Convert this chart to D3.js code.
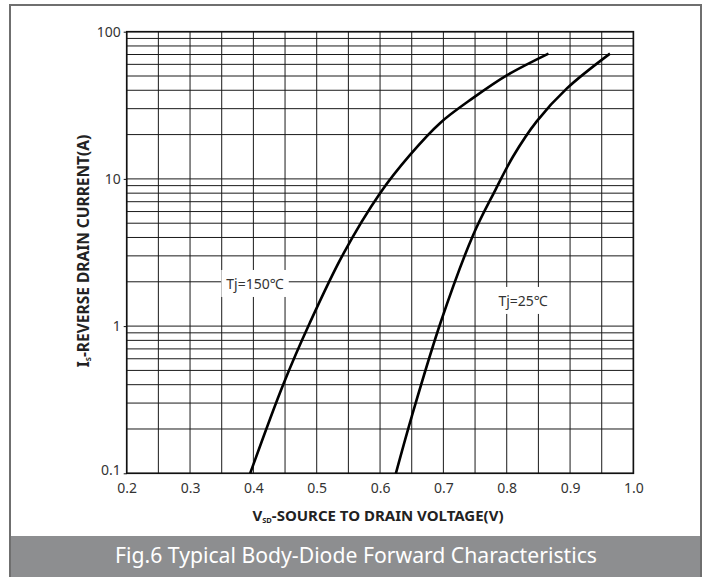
<!DOCTYPE html>
<html>
<head>
<meta charset="utf-8">
<script src="https://cdn.jsdelivr.net/npm/d3@7"></script>
<style>
  body { margin: 0; background: #fff; }
  svg text { font-family: "Noto Sans", sans-serif; }
</style>
</head>
<body>
<div id="chart"></div>
<script>
// curve data (Vsd in volts, Is in amps)
const vf150 = [0.395, 0.447, 0.489, 0.542, 0.600, 0.647, 0.695, 0.747, 0.800, 0.866];
const is150 = [0.1, 0.4, 1.05, 3.1, 8.0, 14.5, 24.0, 35.5, 50.5, 71];
const vf25 = [0.625, 0.650, 0.696, 0.747, 0.782, 0.810, 0.847, 0.895, 0.963];
const is25 = [0.1, 0.243, 1.07, 4.16, 8.4, 14.2, 24.5, 41.2, 71];

const xTicks = [0.2, 0.3, 0.4, 0.5, 0.6, 0.7, 0.8, 0.9, 1.0];
const yTicks = [0.1, 1, 10, 100];
const curveLabels = ["Tj=150℃", "Tj=25℃"];
const caption = "Fig.6 Typical Body-Diode Forward Characteristics";

const width = 711;
const height = 577;
const plot = { left: 126.7, right: 633.4, top: 31.7, bottom: 473.3 };

const svg = d3.select("#chart")
  .append("svg")
  .attr("width", width)
  .attr("height", height);

const x = d3.scaleLinear().domain([0.2, 1.0]).range([plot.left, plot.right]);
const y = d3.scaleLog().domain([0.1, 100]).range([plot.bottom, plot.top]);

// outer frame
svg.append("rect")
  .attr("x", 10).attr("y", 5)
  .attr("width", 691).attr("height", 580)
  .attr("fill", "none")
  .attr("stroke", "#6f6f6f")
  .attr("stroke-width", 2);

// caption bar
svg.append("rect")
  .attr("x", 11).attr("y", 536)
  .attr("width", 689).attr("height", 45)
  .attr("fill", "#8d8e90");

svg.append("text")
  .attr("x", 356).attr("y", 563)
  .attr("text-anchor", "middle")
  .attr("fill", "#fff")
  .attr("font-size", 21)
  .attr("textLength", 482)
  .attr("lengthAdjust", "spacingAndGlyphs")
  .text(caption);

// grid
const grid = svg.append("g").attr("stroke", "#1a1a1a").attr("stroke-width", 1);

const vLines = d3.range(0, 17).map(i => 0.2 + i * 0.05);
grid.selectAll(".v")
  .data(vLines)
  .enter().append("line")
  .attr("x1", d => x(d)).attr("x2", d => x(d))
  .attr("y1", plot.top).attr("y2", plot.bottom);

const hLines = [];
[0.1, 1, 10].forEach(dec => d3.range(1, 10).forEach(m => hLines.push(dec * m)));
hLines.push(100);
grid.selectAll(".h")
  .data(hLines)
  .enter().append("line")
  .attr("x1", plot.left).attr("x2", plot.right)
  .attr("y1", d => y(d)).attr("y2", d => y(d));

// heavier frame lines
svg.append("rect")
  .attr("x", plot.left).attr("y", plot.top)
  .attr("width", plot.right - plot.left)
  .attr("height", plot.bottom - plot.top)
  .attr("fill", "none")
  .attr("stroke", "#111")
  .attr("stroke-width", 1.6);

// axes (labels only)
const xAxis = svg.append("g")
  .attr("transform", `translate(0,${plot.bottom})`)
  .call(d3.axisBottom(x).tickValues(xTicks).tickFormat(d3.format(".1f")).tickSize(0).tickPadding(10));

const yAxis = svg.append("g")
  .attr("transform", `translate(${plot.left},0)`)
  .call(d3.axisLeft(y).tickValues(yTicks).tickFormat(d => d).tickSize(3).tickPadding(3));

[xAxis, yAxis].forEach(a => {
  a.select(".domain").remove();
  a.selectAll("text")
    .attr("font-size", 14)
    .attr("fill", "#333")
    .style("font-family", "'Noto Sans', sans-serif");
  a.selectAll("line").attr("stroke", "#111");
});
yAxis.selectAll(".tick").filter(d => d === 0.1).select("text").attr("dy", "0.1em");

// axis titles
const xTitle = svg.append("text")
  .attr("x", 378).attr("y", 521)
  .attr("text-anchor", "middle")
  .attr("font-size", 15)
  .attr("font-weight", "bold")
  .attr("fill", "#222");
xTitle.append("tspan").text("V");
xTitle.append("tspan").attr("font-size", 7.5).attr("dy", 2).text("SD");
xTitle.append("tspan").attr("dy", -2).text("-SOURCE TO DRAIN VOLTAGE(V)");

const yTitle = svg.append("text")
  .attr("transform", "translate(89,251) rotate(-90)")
  .attr("text-anchor", "middle")
  .attr("font-size", 15.5)
  .attr("font-weight", "bold")
  .attr("fill", "#222");
yTitle.append("tspan").text("I");
yTitle.append("tspan").attr("font-size", 7.5).attr("dy", 2).text("S");
yTitle.append("tspan").attr("dy", -2).text("-REVERSE DRAIN CURRENT(A)");

// curves
const line = d3.line()
  .x(d => x(d[0]))
  .y(d => y(d[1]))
  .curve(d3.curveCatmullRom.alpha(0.5));

const series = [d3.zip(vf150, is150), d3.zip(vf25, is25)];
svg.selectAll(".curve")
  .data(series)
  .enter().append("path")
  .attr("d", line)
  .attr("fill", "none")
  .attr("stroke", "#000")
  .attr("stroke-width", 2.6);

// curve labels with white boxes
const labelPos = [[0.4026, 1.93], [0.8258, 1.48]];
curveLabels.forEach((t, i) => {
  const g = svg.append("g");
  const txt = g.append("text")
    .attr("x", x(labelPos[i][0])).attr("y", y(labelPos[i][1]))
    .attr("text-anchor", "middle")
    .attr("dy", "0.35em")
    .attr("font-size", 14)
    .attr("fill", "#333")
    .text(t);
  const bb = txt.node().getBBox();
  g.insert("rect", "text")
    .attr("x", bb.x - 5).attr("y", bb.y - 4)
    .attr("width", bb.width + 10).attr("height", bb.height + 8)
    .attr("fill", "#fff");
});
</script>
</body>
</html>
